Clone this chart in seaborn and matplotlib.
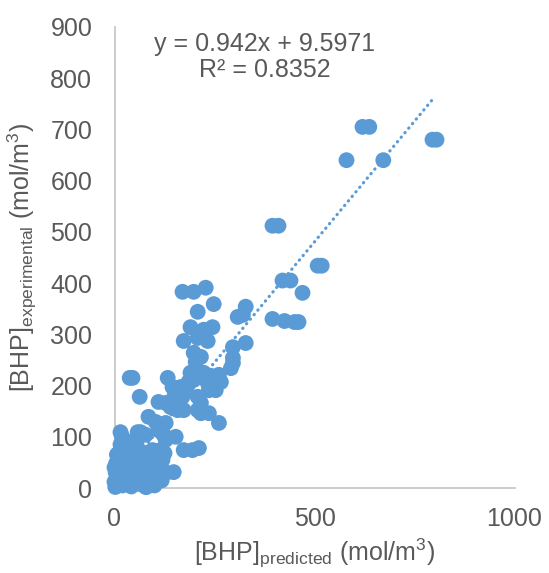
import numpy as np
import pandas as pd
import seaborn as sns
import matplotlib
matplotlib.use("Agg")
import matplotlib.pyplot as plt

sns.set_style("white")
plt.rcParams['font.family'] = ['Liberation Sans', 'DejaVu Sans']
plt.rcParams['mathtext.fontset'] = 'custom'
plt.rcParams['mathtext.rm'] = 'Liberation Sans'

# predicted vs experimental [BHP] (mol/m3)
bhp_predicted = [
    # high values
    795, 805, 620, 637, 580, 672, 508, 518, 470, 395, 425, 450, 460,
    420, 440, 395, 410,
    # middle
    170, 198, 228, 248, 208, 328, 308, 321, 190, 223, 245, 173, 208, 233,
    198, 216, 203, 296, 296, 328, 291, 296, 223, 241, 261, 266,
    38, 45, 133, 185, 198, 165, 145, 158, 170, 233, 236, 253, 63,
    110, 128, 140, 158, 173, 208, 216, 208, 216, 236, 261,
    85, 103, 128, 110, 123, 153, 15, 18, 65, 78, 173, 195, 211, 115, 148,
    35, 58, 120, 128, 220, 258, 180, 150, 190,
    # low cluster
    2, 5, 8, 3, 10, 4, 12, 6, 15, 20, 25, 22, 28, 30, 35, 40, 42, 45, 48,
    50, 55, 58, 62, 65, 70, 72, 78, 80, 85, 90, 95, 98, 102, 105, 110,
    115, 120, 125, 100, 118, 130, 15, 30, 55, 0, 0, 53, 95, 120, 103, 78,
]
bhp_experimental = [
    680, 680, 705, 705, 640, 640, 434, 434, 381, 330, 326, 324, 324,
    405, 405, 512, 512,
    383, 383, 391, 359, 344, 354, 334, 338, 314, 309, 314, 287, 293, 287,
    264, 256, 246, 275, 254, 283, 234, 244, 225, 219, 221, 207,
    215, 215, 215, 207, 211, 197, 197, 185, 178, 205, 191, 191, 178,
    168, 166, 158, 152, 152, 178, 166, 152, 146, 146, 127,
    139, 129, 127, 113, 104, 100, 109, 102, 109, 104, 74, 74, 78, 74, 31,
    90, 109, 107, 94, 220, 215, 190, 180, 225,
    2, 10, 20, 30, 38, 48, 55, 65, 75, 5, 15, 28, 42, 58, 70, 80, 3, 18, 32,
    48, 62, 75, 8, 22, 38, 55, 68, 2, 15, 30, 45, 60, 72, 12, 25,
    40, 55, 68, 5, 15, 30, 85, 88, 85, 12, 40, 80, 74, 68, 16, 2,
]

slope = 0.942
intercept = 9.5971
r_squared = 0.8352

df = pd.DataFrame({"pred": bhp_predicted, "exp": bhp_experimental})

blue = "#5B9BD5"
grey_text = "#595959"

fig = plt.figure(figsize=(5.49, 5.73), dpi=100)
ax = fig.add_axes([114.5 / 549, 85 / 573, 400 / 549, 461 / 573])

sns.scatterplot(data=df, x="pred", y="exp", ax=ax, color=blue, s=130,
                edgecolor="none", linewidth=0, alpha=1, clip_on=False, zorder=3)

# linear trendline
xt = np.array([0, 800])
ax.plot(xt, slope * xt + intercept, color=blue, lw=2.3,
        linestyle=(0, (0.1, 1.75)), dash_capstyle="round", zorder=4)

ax.set_xlim(0, 1000)
ax.set_ylim(0, 900)
ax.set_xticks([0, 500, 1000])
ax.set_yticks(range(0, 901, 100))
ax.tick_params(axis="both", length=0, labelsize=18, labelcolor=grey_text)
ax.tick_params(axis="y", pad=16)
ax.tick_params(axis="x", pad=14)

sns.despine(ax=ax)
for side in ["left", "bottom"]:
    ax.spines[side].set_color("#C8C8C8")
    ax.spines[side].set_linewidth(1.3)

ax.set_xlabel(r"[BHP]$_{\mathregular{predicted}}$ (mol/m$^{\mathregular{3}}$)",
              fontsize=18, color=grey_text, labelpad=4)
ax.set_ylabel(r"[BHP]$_{\mathregular{experimental}}$ (mol/m$^{\mathregular{3}}$)",
              fontsize=18, color=grey_text, labelpad=8)

eq = f"y = {slope}x + {intercept}\nR² = {r_squared}"
ax.text(0.375, 0.935, eq, transform=ax.transAxes, ha="center", va="center",
        fontsize=18, color=grey_text, linespacing=1.15)

fig.savefig("out.png", dpi=100)
